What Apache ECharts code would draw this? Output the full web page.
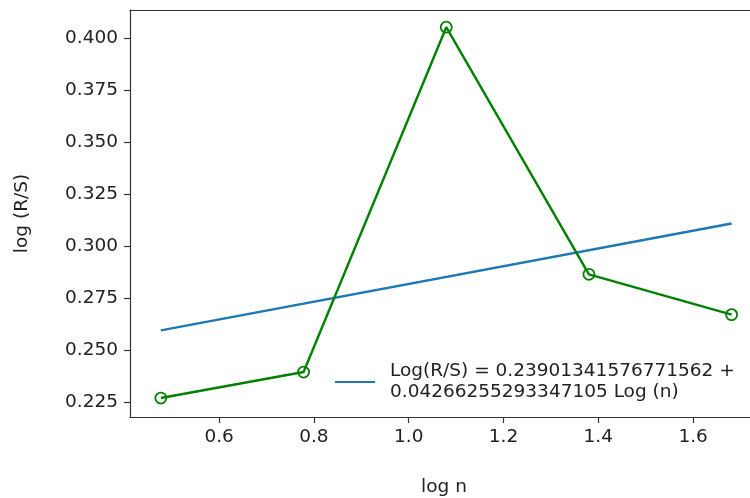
<!DOCTYPE html>
<html>
    <head>
        <meta charset="utf-8">
        <script src="https://cdn.jsdelivr.net/npm/echarts@6.0.0/dist/echarts.min.js"></script>
    </head>
    <body style="margin: 0; background: #fff;">
        <div id="main" style="width: 750px; height: 498px;"></div>
        <script>
            // log n and log(R/S)
            var logN = [0.4771, 0.7782, 1.0792, 1.3802, 1.6812];
            var logRS = [0.2269, 0.2394, 0.4052, 0.2864, 0.2670];
            // fitted line, its two ends
            var fitX = [0.4771, 1.6812];
            var fitY = [0.2594, 0.3108];
            var fitName = 'Log(R/S) = 0.23901341576771562 +\n0.04266255293347105 Log (n)';
            var xTicks = [0.6, 0.8, 1.0, 1.2, 1.4, 1.6];
            var yTicks = [0.225, 0.250, 0.275, 0.300, 0.325, 0.350, 0.375, 0.400];

            var chartDom = document.getElementById('main');
            var myChart = echarts.init(chartDom);
            var font = 'DejaVu Sans';
            var fs = 18.5;

            var pts = logN.map(function (x, i) { return [x, logRS[i]]; });
            var fit = fitX.map(function (x, i) { return [x, fitY[i]]; });

            var option = {
                animation: false,
                backgroundColor: '#fff',
                textStyle: { fontFamily: font },
                // the plot runs past the right edge, as in the picture
                grid: { left: 130, right: -8, top: 10, bottom: 81, outerBoundsMode: 'none' },
                legend: {
                    left: 330,
                    top: 356,
                    icon: 'rect',
                    itemWidth: 40,
                    itemHeight: 2,
                    data: [fitName],
                    textStyle: {
                        fontFamily: font,
                        fontSize: fs,
                        lineHeight: 21,
                        color: '#222',
                        padding: [0, 0, 0, 10]
                    }
                },
                xAxis: [{
                    type: 'value',
                    min: 0.412,
                    max: 1.7369,
                    name: 'log n',
                    nameLocation: 'middle',
                    nameGap: 61,
                    nameTextStyle: { fontFamily: font, fontSize: fs, color: '#222' },
                    splitLine: { show: false },
                    axisLine: { lineStyle: { color: '#333', width: 1.2 } },
                    axisTick: { inside: false, length: 6, lineStyle: { color: '#333', width: 1.2 }, customValues: xTicks },
                    axisLabel: {
                        margin: 11,
                        fontFamily: font,
                        fontSize: fs,
                        color: '#222',
                        customValues: xTicks,
                        formatter: function (v) { return v.toFixed(1); }
                    }
                }, {
                    type: 'value',
                    position: 'top',
                    min: 0.412,
                    max: 1.7369,
                    splitLine: { show: false },
                    axisLine: { show: true, lineStyle: { color: '#333', width: 1.2 } },
                    axisTick: { show: false },
                    axisLabel: { show: false }
                }],
                yAxis: {
                    type: 'value',
                    min: 0.21778,
                    max: 0.41347,
                    name: 'log (R/S)',
                    nameLocation: 'middle',
                    nameGap: 98,
                    nameTextStyle: { fontFamily: font, fontSize: fs, color: '#222' },
                    splitLine: { show: false },
                    axisLine: { show: true, lineStyle: { color: '#333', width: 1.2 } },
                    axisTick: { show: true, inside: false, length: 6, lineStyle: { color: '#333', width: 1.2 }, customValues: yTicks },
                    axisLabel: {
                        margin: 12,
                        fontFamily: font,
                        fontSize: fs,
                        color: '#222',
                        customValues: yTicks,
                        formatter: function (v) { return v.toFixed(3); }
                    }
                },
                series: [{
                    name: fitName,
                    type: 'line',
                    data: fit,
                    symbol: 'none',
                    lineStyle: { color: '#1f77b4', width: 2.4 },
                    itemStyle: { color: '#1f77b4' }
                }, {
                    name: 'data',
                    type: 'line',
                    data: pts,
                    symbol: 'circle',
                    symbolSize: 11,
                    showAllSymbol: true,
                    lineStyle: { color: '#008000', width: 2.4 },
                    itemStyle: { color: 'rgba(0,0,0,0)', borderColor: '#008000', borderWidth: 1.8 },
                    z: 3
                }]
            };

            option && myChart.setOption(option);
        </script>
    </body>
</html>
